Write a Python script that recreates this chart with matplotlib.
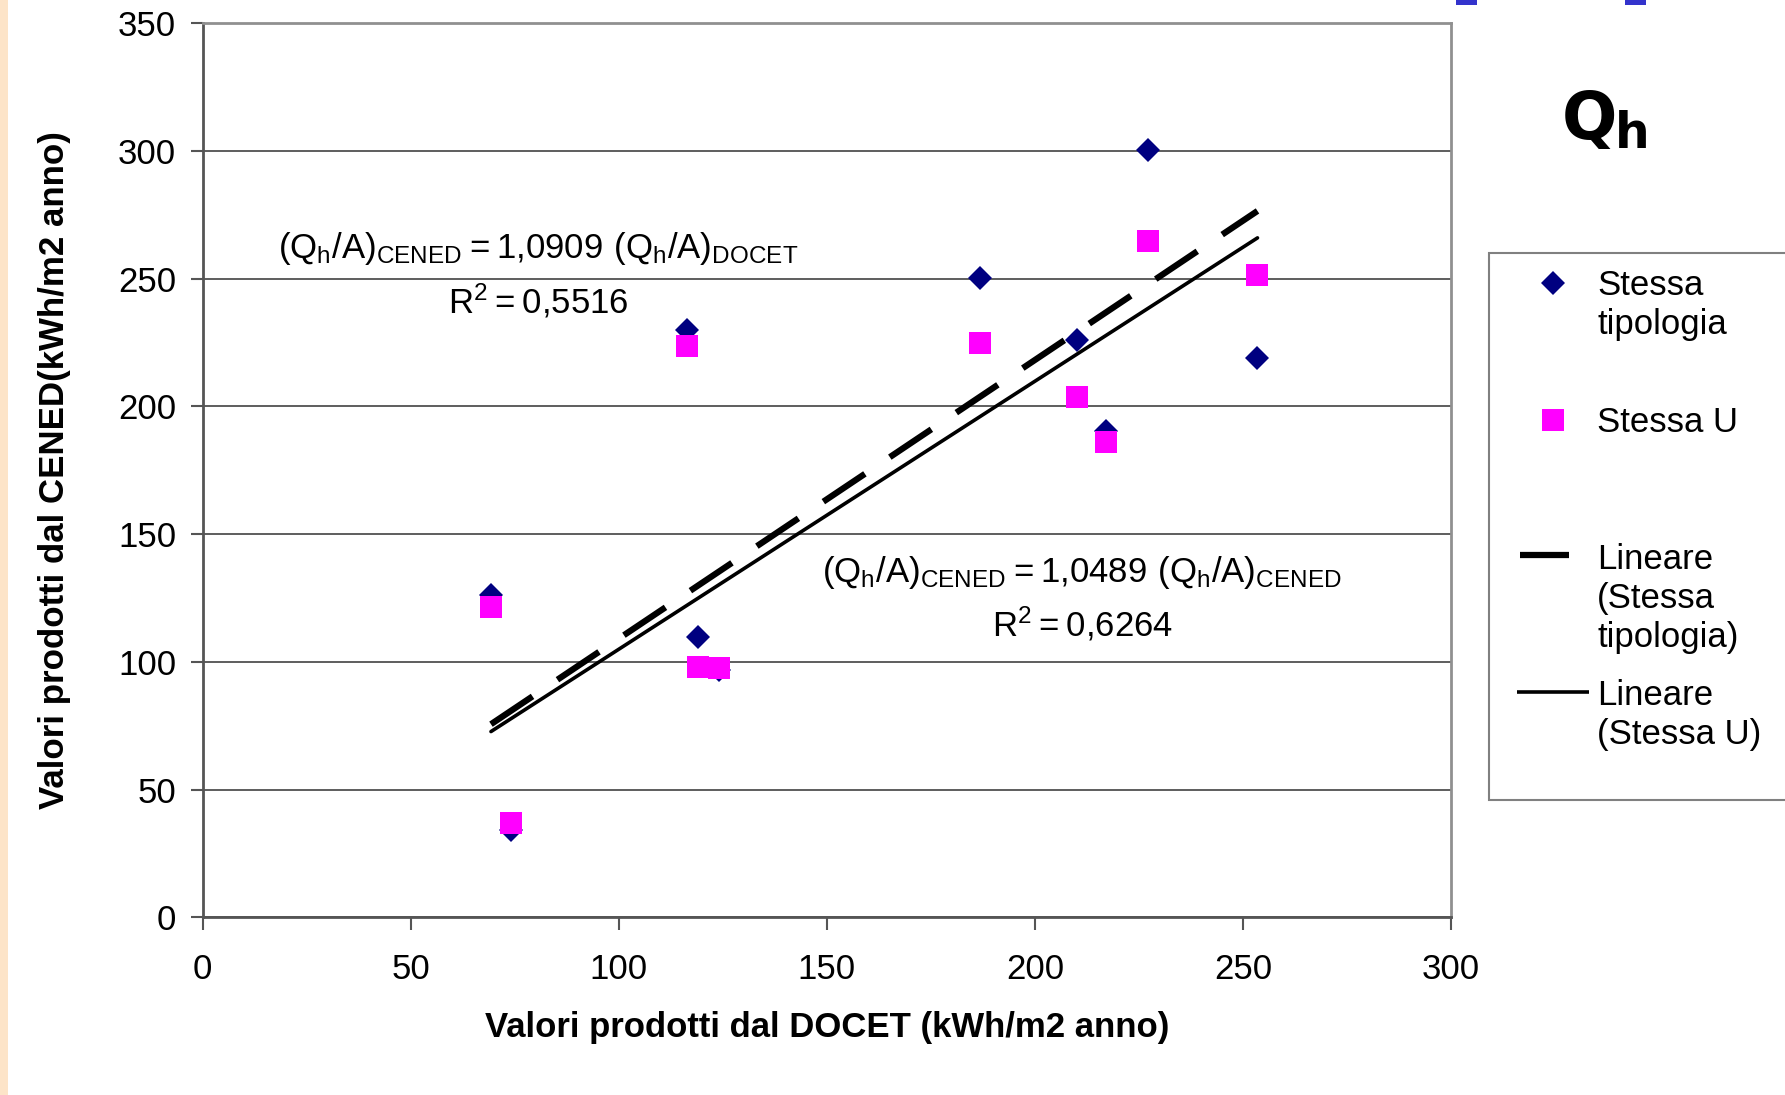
import matplotlib
matplotlib.use("Agg")
import matplotlib.pyplot as plt
from matplotlib import font_manager
from matplotlib.lines import Line2D
from matplotlib.patches import Rectangle
import numpy as np

# ---------------- data ----------------
docet_x = [69.3, 74.1, 116.3, 119.0, 124.1, 186.9, 210.2, 217.2, 227.2, 253.5]
cened_tipologia = [126.0, 34.1, 229.9, 109.6, 96.8, 250.3, 226.0, 190.3, 300.5, 218.8]
cened_u = [121.6, 37.1, 223.8, 97.9, 97.6, 224.7, 203.6, 186.1, 264.9, 251.5]
series_names = ["Stessa\ntipologia", "Stessa U"]
trend_names = ["Lineare\n(Stessa\ntipologia)", "Lineare\n(Stessa U)"]
eq1 = [r"$\mathregular{(Q_h/A)_{CENED} = 1{,}0909\ (Q_h/A)_{DOCET}}$", r"$\mathregular{R^2 = 0{,}5516}$"]
eq2 = [r"$\mathregular{(Q_h/A)_{CENED} = 1{,}0489\ (Q_h/A)_{CENED}}$", r"$\mathregular{R^2 = 0{,}6264}$"]
xticks = [0, 50, 100, 150, 200, 250, 300]
yticks = [0, 50, 100, 150, 200, 250, 300, 350]
xlabel = "Valori prodotti dal DOCET (kWh/m2 anno)"
ylabel = "Valori prodotti dal CENED(kWh/m2 anno)"

# ---------------- style ----------------
plt.rcParams['font.family'] = ['Liberation Sans', 'DejaVu Sans']
plt.rcParams['mathtext.fontset'] = 'custom'
plt.rcParams['mathtext.rm'] = 'Liberation Sans'
W, H = 1785, 1095
fig = plt.figure(figsize=(W / 100, H / 100), dpi=100)
fig.patch.set_facecolor('white')

def fx(px):
    return px / W

def fy(py):
    return 1 - py / H

# left decorative strip
fig.patches.append(Rectangle((0, 0), fx(8), 1, transform=fig.transFigure,
                             facecolor='#FDE4C8', edgecolor='none', zorder=0))
# cut-off blue title glyph bottoms at top edge
for x0, x1, h in [(1456, 1477, 5), (1625, 1646, 5)]:
    fig.patches.append(Rectangle((fx(x0), fy(h)), fx(x1) - fx(x0), h / H,
                                 transform=fig.transFigure, facecolor='#3333CC',
                                 edgecolor='none'))

L, R, T, B = 202.6, 1451.0, 23.3, 917.3
ax = fig.add_axes([fx(L), fy(B), fx(R) - fx(L), (B - T) / H])
ax.set_xlim(0, 300)
ax.set_ylim(0, 350)
ax.set_xticks(xticks)
ax.set_yticks(yticks)
ax.tick_params(axis='both', which='major', labelsize=25, length=9, width=1.5,
               direction='out', color='#555555', pad=10)
ax.tick_params(axis='x', pad=17)
ax.yaxis.grid(True, color='#505050', linewidth=1.3)
ax.set_axisbelow(True)
for s in ['left', 'bottom']:
    ax.spines[s].set_color('#555555')
    ax.spines[s].set_linewidth(2)
for s in ['top', 'right']:
    ax.spines[s].set_color('#909090')
    ax.spines[s].set_linewidth(2)

DIAM_MS = 11.8
SQ_MS = 15.6
ax.plot(docet_x, cened_tipologia, linestyle='none', marker='D', ms=DIAM_MS,
        color='#000080', mec='#000080', mew=0, zorder=3)
ax.plot(docet_x, cened_u, linestyle='none', marker='s', ms=SQ_MS,
        color='#FF00FF', mec='#FF00FF', mew=0, zorder=4)

# linear trendlines through the origin (least squares)
xa = np.array(docet_x)
k1 = np.sum(xa * np.array(cened_tipologia)) / np.sum(xa * xa)
k2 = np.sum(xa * np.array(cened_u)) / np.sum(xa * xa)
xr = np.array([xa.min(), xa.max()])
ax.plot(xr, k1 * xr, color='black', lw=4.5, dashes=(8, 4.8),
        solid_capstyle='butt', dash_capstyle='butt', zorder=5)
ax.plot(xr, k2 * xr, color='black', lw=2.6, solid_capstyle='round', zorder=5)

ax.text(80.6, 261.7, eq1[0], ha='center', va='center', fontsize=25)
ax.text(80.6, 241.3, eq1[1], ha='center', va='center', fontsize=25)
ax.text(211.4, 134.9, eq2[0], ha='center', va='center', fontsize=25)
ax.text(211.4, 115.0, eq2[1], ha='center', va='center', fontsize=25)

ax.set_xlabel(xlabel, fontsize=25, fontweight='bold', labelpad=18)

# y label: prefer a condensed bold font
names = {f.name for f in font_manager.fontManager.ttflist}
cond = None
for cand in ['Liberation Sans Narrow', 'DejaVu Sans Condensed', 'Arial Narrow']:
    if cand in names:
        cond = cand
        break
yfam = [cond] if cond else ['Liberation Sans']
ylab = fig.text(fx(55), fy(470), ylabel, rotation=90, ha='center', va='center',
                fontsize=29, fontweight='bold', family=yfam)
fig.canvas.draw()
renderer = fig.canvas.get_renderer()
ext = ylab.get_window_extent(renderer)
target = 678.0
if ext.height > 0:
    ylab.set_fontsize(29 * target / ext.height)

# big Q_h label
qtxt = fig.text(fx(1562), fy(139), "Q", fontsize=47, fontweight='bold',
                family='DejaVu Sans', ha='left', va='baseline')
fig.canvas.draw()
qext = qtxt.get_window_extent(renderer)
fig.text(qext.x1 / W - fx(3), fy(148), "h", fontsize=35, fontweight='bold',
         family='DejaVu Sans', ha='left', va='baseline')

# legend (drawn manually to match the layout of the original)
fig.patches.append(Rectangle((fx(1489), fy(800)), fx(1830) - fx(1489), (800 - 253) / H,
                             transform=fig.transFigure, facecolor='white',
                             edgecolor='#808080', linewidth=1.5, zorder=1))
tf = fig.transFigure
fig.lines.append(Line2D([fx(1553)], [fy(283)], transform=tf, marker='D', ms=DIAM_MS,
                        color='#000080', mew=0, linestyle='none'))
fig.lines.append(Line2D([fx(1553)], [fy(420)], transform=tf, marker='s', ms=SQ_MS,
                        color='#FF00FF', mew=0, linestyle='none'))
fig.lines.append(Line2D([fx(1520), fx(1569)], [fy(555), fy(555)], transform=tf,
                        color='black', lw=4.5, solid_capstyle='butt'))
fig.lines.append(Line2D([fx(1517), fx(1589)], [fy(692), fy(692)], transform=tf,
                        color='black', lw=2.6, solid_capstyle='butt'))
for label, top in [(series_names[0], 269), (series_names[1], 406),
                   (trend_names[0], 543), (trend_names[1], 679)]:
    fig.text(fx(1597), fy(top), label, fontsize=25, ha='left', va='top',
             linespacing=1.24)

fig.savefig("out.png", dpi=100)
